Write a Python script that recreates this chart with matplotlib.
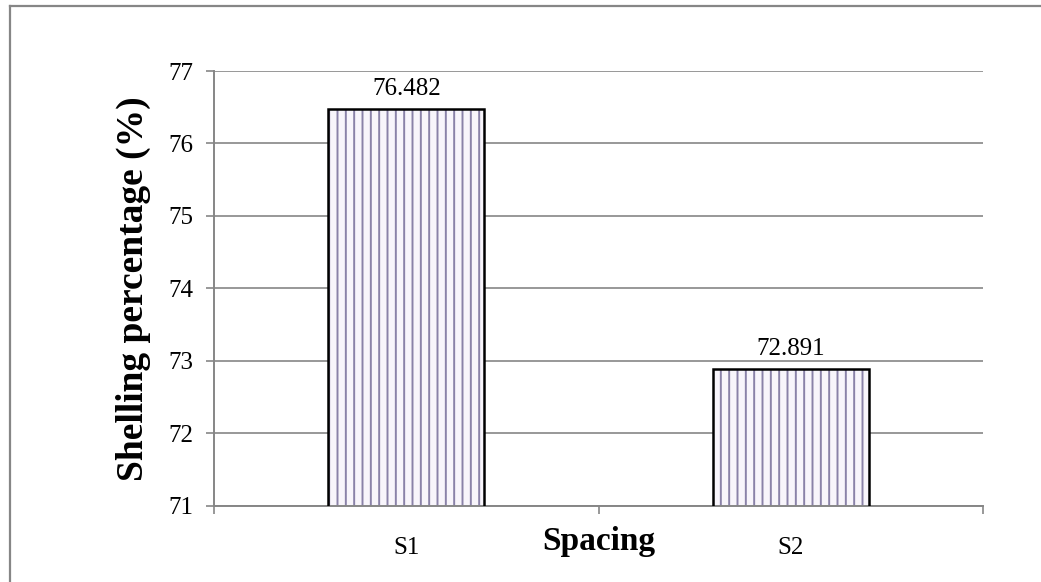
import matplotlib
matplotlib.use("Agg")
import matplotlib.pyplot as plt
from matplotlib.lines import Line2D

# Shelling percentage by spacing
categories = ["S1", "S2"]
shelling = [76.482, 72.891]
y_ticks = [71, 72, 73, 74, 75, 76, 77]

plt.rcParams['font.family'] = ['Liberation Serif', 'DejaVu Serif']
plt.rcParams['hatch.linewidth'] = 1.4

grey = '#868686'

fig = plt.figure(figsize=(10.41, 5.82), dpi=100)
ax = fig.add_axes([0.2056, 0.1314, 0.7387, 0.7466])

x = list(range(1, len(categories) + 1))
# hatched fill first, then a plain black outline on top
ax.bar(x, shelling, width=0.405, facecolor='#f8f5fb',
       edgecolor='#8a82a8', linewidth=0, hatch='||', zorder=2)
ax.bar(x, shelling, width=0.405, fill=False, edgecolor='black',
       linewidth=1.8, zorder=3)

for xi, v in zip(x, shelling):
    ax.annotate(f"{v:.3f}", (xi, v), xytext=(0, 6), textcoords='offset points',
                ha='center', va='bottom', fontsize=18)

ax.set_xlim(0.5, len(categories) + 0.5)
ax.set_ylim(y_ticks[0], y_ticks[-1])
ax.set_yticks(y_ticks)
ax.set_yticklabels([str(t) for t in y_ticks], fontsize=18)
ax.tick_params(axis='y', length=6, width=1.2, color=grey, pad=9)

ax.set_xticks(x)
ax.set_xticklabels(categories, fontsize=18)
ax.set_xticks([0.5 + i for i in range(len(categories) + 1)], minor=True)
ax.tick_params(axis='x', which='major', length=0, pad=23)
ax.tick_params(axis='x', which='minor', length=6, width=1.2, color=grey)

ax.grid(axis='y', color=grey, linewidth=1.2, zorder=0)
ax.set_axisbelow(True)
for side in ['top', 'right']:
    ax.spines[side].set_visible(False)
for side in ['left', 'bottom']:
    ax.spines[side].set_color(grey)
    ax.spines[side].set_linewidth(1.4)

ax.set_ylabel("Shelling percentage (%)", fontsize=27, fontweight='bold')
ax.yaxis.set_label_coords(-0.082, 0.5)
ax.set_xlabel("Spacing", fontsize=24, fontweight='bold')
ax.xaxis.set_label_coords(0.5, -0.047)

# chart frame: left and top edges only
fig.add_artist(Line2D([0.0096, 0.0096], [0.0, 0.989], transform=fig.transFigure,
                      color=grey, linewidth=1.6))
fig.add_artist(Line2D([0.0096, 1.0], [0.989, 0.989], transform=fig.transFigure,
                      color=grey, linewidth=1.6))

fig.savefig("out.png", dpi=100, facecolor='white')
